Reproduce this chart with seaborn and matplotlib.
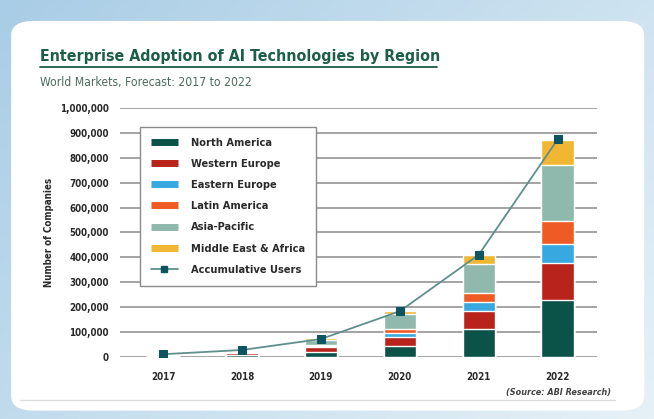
import numpy as np
import pandas as pd
import matplotlib
matplotlib.use("Agg")
import matplotlib.pyplot as plt
import seaborn as sns
from matplotlib.patches import FancyBboxPatch
from matplotlib.lines import Line2D
from matplotlib.ticker import FuncFormatter
from matplotlib.colors import LinearSegmentedColormap

years = ["2017", "2018", "2019", "2020", "2021", "2022"]
north_america = [1500, 7000, 20000, 45000, 110000, 228000]
western_europe = [1200, 7000, 17000, 35000, 75000, 148000]
eastern_europe = [300, 2000, 5000, 15000, 37000, 78000]
latin_america = [300, 2000, 5000, 15000, 36000, 90000]
asia_pacific = [500, 3000, 22000, 60000, 114000, 229000]
middle_east_africa = [200, 1000, 8000, 15000, 38000, 98000]
accumulative = [10000, 27000, 71000, 183000, 410000, 874000]

series_names = ["North America", "Western Europe", "Eastern Europe",
                "Latin America", "Asia-Pacific", "Middle East & Africa"]
series_vals = [north_america, western_europe, eastern_europe,
               latin_america, asia_pacific, middle_east_africa]
colors = ["#0b5248", "#b8231b", "#38a8e0", "#ef5b25", "#8fb9ad", "#f1b732"]

sns.set_theme(style="white")
plt.rcParams['font.family'] = ['DejaVu Sans']
plt.rcParams['font.stretch'] = 'condensed'

fig = plt.figure(figsize=(6.54, 4.19), dpi=100)

# background gradient
bg = fig.add_axes([0, 0, 1, 1], zorder=-10)
gx = np.linspace(0, 1, 200)
gy = np.linspace(0, 1, 100)
GX, GY = np.meshgrid(gx, gy)
grad = np.clip(0.55 * (1 - GX) + 0.35 * (1 - GY), 0, 1)
cmap = LinearSegmentedColormap.from_list("bgc", ["#e6f1f7", "#a9cde6"])
bg.imshow(grad, extent=[0, 1, 0, 1], origin="upper", aspect="auto", cmap=cmap)
bg.add_patch(FancyBboxPatch((0.017, 0.02), 0.968, 0.93,
                            boxstyle="round,pad=0,rounding_size=0.035",
                            transform=bg.transAxes, facecolor="white",
                            edgecolor="none"))
bg.set_xlim(0, 1); bg.set_ylim(0, 1)
bg.axis("off")

ax = fig.add_axes([0.183, 0.1487, 0.73, 0.5933])

df = pd.DataFrame({"year": years})
cum = np.cumsum(np.array(series_vals), axis=0)
for i in reversed(range(len(series_names))):
    df["v"] = cum[i]
    sns.barplot(data=df, x="year", y="v", color=colors[i], saturation=1,
                width=0.41, ax=ax, zorder=3, order=years)

df["acc"] = accumulative
sns.lineplot(data=df, x="year", y="acc", color="#5f8f8c", lw=1.3,
             marker="s", markersize=6, markerfacecolor="#0d5560",
             markeredgecolor="#0d5560", ax=ax, zorder=5, sort=False)

ax.set_ylim(0, 1000000)
ax.set_xlim(-0.55, 5.5)
ax.set_yticks(np.arange(0, 1000001, 100000))
ax.yaxis.set_major_formatter(FuncFormatter(lambda v, p: f"{int(v):,}"))
ax.grid(axis="y", color="#a3a3a3", lw=1.4, zorder=0)
ax.grid(axis="x", visible=False)
for s in ax.spines.values():
    s.set_visible(False)
ax.tick_params(axis="both", length=0, labelsize=7, colors="#2a2a2a", pad=8)
for lab in ax.get_yticklabels() + ax.get_xticklabels():
    lab.set_fontweight("bold")
ax.tick_params(axis="x", pad=11)
ax.set_xlabel("")
ax.set_ylabel("Number of Companies", fontsize=7, fontweight="bold",
              color="#2a2a2a", labelpad=4)

handles = [Line2D([0], [0], color=c, lw=5, solid_capstyle="butt") for c in colors]
handles.append(Line2D([0], [0], color="#5f8f8c", lw=1.3, marker="s",
                      markersize=5, markerfacecolor="#0d5560",
                      markeredgecolor="#0d5560"))
labels = series_names + ["Accumulative Users"]
leg = ax.legend(handles, labels, loc="upper left",
                bbox_to_anchor=(0.042, 0.925), frameon=True, fancybox=False,
                edgecolor="#8a8a8a", framealpha=1,
                prop={"size": 7.9, "weight": "bold"}, handlelength=2.5,
                labelspacing=1.02, borderpad=1.0, handletextpad=1.2,
                borderaxespad=0)
leg.get_frame().set_linewidth(1.0)
leg.set_zorder(6)
for t in leg.get_texts():
    t.set_color("#2a2a2a")

fig.text(0.061, 0.855, "Enterprise Adoption of AI Technologies by Region",
         fontsize=11.4, fontweight="bold", color="#1d5e48", va="baseline")
fig.add_artist(Line2D([0.061, 0.668], [0.84, 0.84], color="#1d5e48",
                      lw=1.3, transform=fig.transFigure))
fig.text(0.061, 0.795, "World Markets, Forecast: 2017 to 2022",
         fontsize=8.7, color="#4d6b5c", va="baseline")
fig.text(0.935, 0.058, "(Source: ABI Research)", fontsize=6.5,
         style="italic", fontweight="bold", color="#444444", ha="right")
fig.add_artist(Line2D([0.03, 0.94], [0.045, 0.045], color="#dddddd",
                      lw=1, transform=fig.transFigure))

fig.savefig("out.png", dpi=100)
